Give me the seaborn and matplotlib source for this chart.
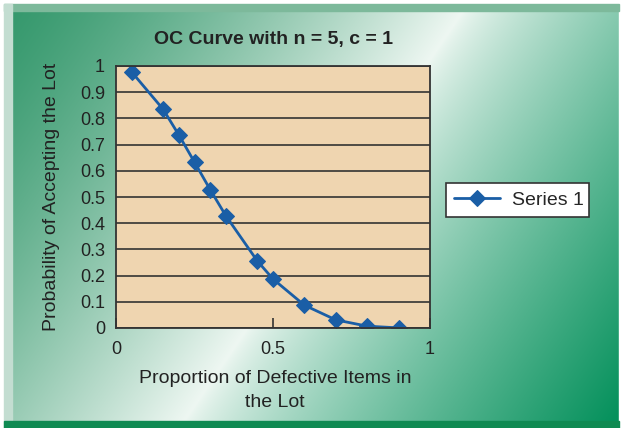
import numpy as np
import pandas as pd
import matplotlib
matplotlib.use("Agg")
import matplotlib.pyplot as plt
from matplotlib.patches import Rectangle
import seaborn as sns

# data
defect_prop = [0.05, 0.15, 0.20, 0.25, 0.30, 0.35, 0.45, 0.50, 0.60, 0.70, 0.80, 0.90]
prob_accept = [0.977, 0.835, 0.737, 0.633, 0.528, 0.428, 0.256, 0.187, 0.087, 0.031, 0.007, 0.0005]
series_name = "Series 1"
x_ticks = [0, 0.5, 1]
y_ticks = [0, 0.1, 0.2, 0.3, 0.4, 0.5, 0.6, 0.7, 0.8, 0.9, 1]

df = pd.DataFrame({"p": defect_prop, "pa": prob_accept, "series": series_name})

sns.set_theme(style="white")
plt.rcParams["font.family"] = ["Liberation Sans", "DejaVu Sans"]

W, H = 622, 428
fig = plt.figure(figsize=(W / 100, H / 100), dpi=100)
fig.patch.set_facecolor("white")

# ---- green gradient backdrop with light diagonal band ----
bg = fig.add_axes([0, 0, 1, 1], zorder=0)
bg.set_xlim(0, W)
bg.set_ylim(H, 0)
bg.axis("off")
xx, yy = np.meshgrid(np.arange(W), np.arange(H))
u = xx + 0.68 * yy
dark_l = np.array([52, 152, 108]) / 255
dark_r = np.array([5, 145, 92]) / 255
light = np.array([238, 247, 242]) / 255
t = np.clip((u - 8) / (470 - 8), 0, 1)
left_part = dark_l + (light - dark_l) * (t[..., None] ** 1.3)
t2 = np.clip((u - 470) / (900 - 470), 0, 1)
right_part = light + (dark_r - light) * (t2[..., None] ** 0.8)
img = np.where((u < 470)[..., None], left_part, right_part)
bg.imshow(np.clip(img, 0, 1), extent=[0, W, H, 0], aspect="auto")
# frame strips
bg.add_patch(Rectangle((0, 0), W, 4, color="white"))
bg.add_patch(Rectangle((0, 0), 4, H, color="white"))
bg.add_patch(Rectangle((W - 3, 0), 3, H, color="white"))
bg.add_patch(Rectangle((4, 4), W - 7, 7, color="#7db99b"))
bg.add_patch(Rectangle((4, 4), 8, H - 4, color="#c3ddd1"))
bg.add_patch(Rectangle((4, 421), W - 7, 7, color="#0f8a52"))

# ---- main plot ----
ax = fig.add_axes([116 / W, 1 - 328 / H, 314 / W, 262 / H], zorder=2)
ax.set_facecolor("#efd5b0")
sns.lineplot(data=df, x="p", y="pa", hue="series", palette=["#1a5ea6"],
             marker="D", markersize=8.5, markeredgecolor="#1a5ea6",
             linewidth=2, ax=ax)
ax.set_xlim(0, 1)
ax.set_ylim(0, 1)
ax.set_xticks(x_ticks)
ax.set_xticklabels(["0", "0.5", "1"])
ax.set_yticks(y_ticks)
ax.set_yticklabels(["0", "0.1", "0.2", "0.3", "0.4", "0.5", "0.6", "0.7", "0.8", "0.9", "1"])
ax.yaxis.grid(True, color="#333333", linewidth=1.2)
ax.xaxis.grid(False)
ax.set_axisbelow(True)
ax.tick_params(axis="x", direction="in", length=7, width=1.2, color="#333333",
               labelsize=13, labelcolor="#222222", pad=9, bottom=True)
ax.tick_params(axis="y", length=0, labelsize=13, labelcolor="#222222", pad=8)
for s in ax.spines.values():
    s.set_color("#333333")
    s.set_linewidth(1.3)

ax.set_xlabel("Proportion of Defective Items in\nthe Lot", fontsize=14, color="#222222",
              linespacing=1.5)
ax.xaxis.set_label_coords(0.506, -0.162)
ax.set_ylabel("Probability of Accepting the Lot", fontsize=14, color="#222222")
ax.yaxis.set_label_coords(-0.178, 0.5)
ax.set_title("OC Curve with n = 5, c = 1", fontsize=14, fontweight="bold",
             color="#222222", pad=16)

leg = ax.legend(loc="center left", bbox_to_anchor=(446 / W, 1 - 217 / H, 143 / W, 34 / H),
                bbox_transform=fig.transFigure, frameon=True, fancybox=False,
                fontsize=14, handlelength=2.4, borderpad=0.4, borderaxespad=0,
                handletextpad=0.6, mode="expand")
leg.get_frame().set_edgecolor("#333333")
leg.get_frame().set_linewidth(1.2)
leg.get_frame().set_facecolor("white")
leg.get_frame().set_alpha(1)

fig.savefig("out.png", dpi=100)
